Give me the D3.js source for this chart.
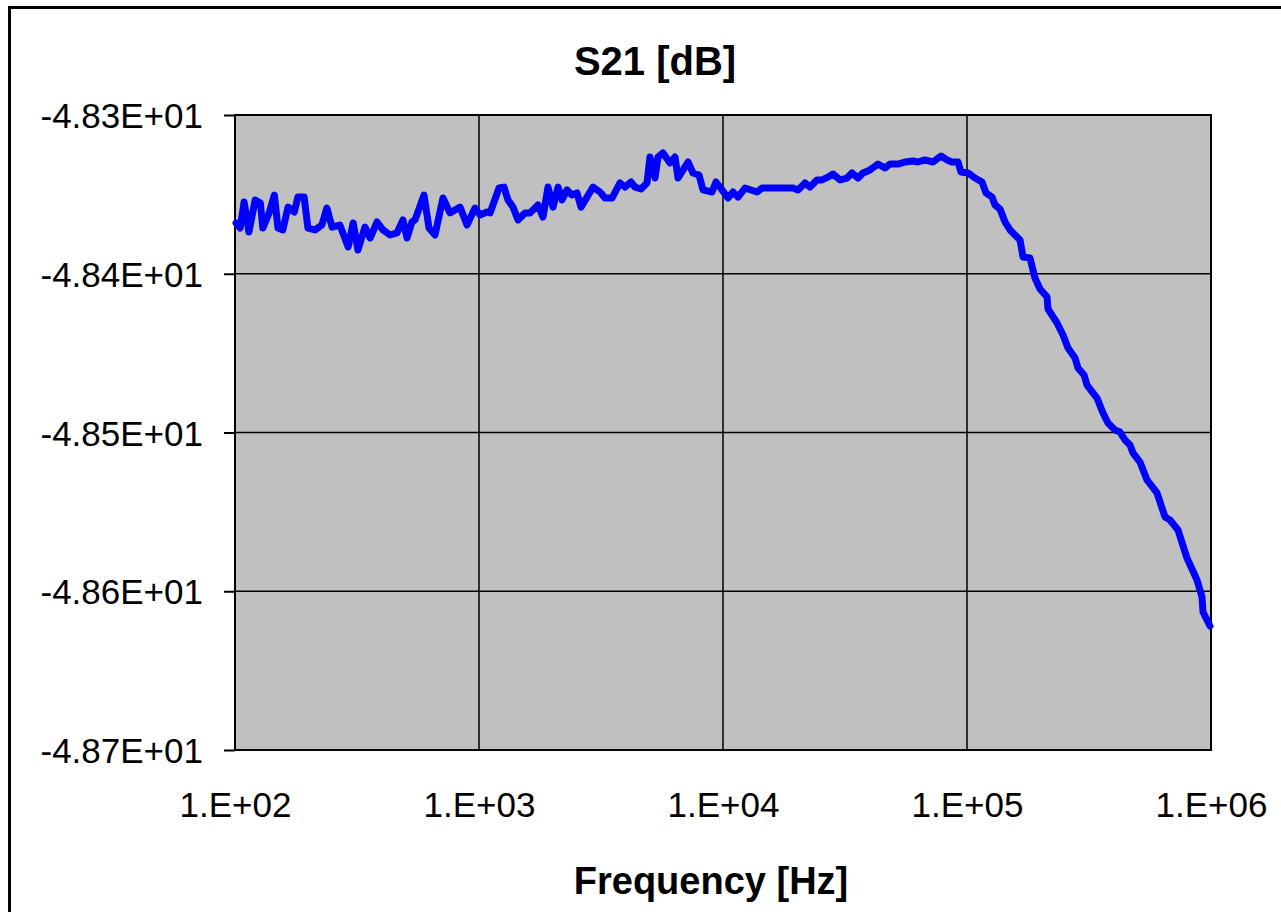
<!DOCTYPE html>
<html>
<head>
<meta charset="utf-8">
<script src="https://cdn.jsdelivr.net/npm/d3@7"></script>
<style>
  body { margin: 0; background: #fff; }
  svg { display: block; }
  text { font-family: Arial, "Liberation Sans", sans-serif; fill: #000; }
</style>
</head>
<body>
<div id="chart"></div>
<script>
// ---- chart data ----
var CHART_TITLE = "S21 [dB]";
var X_TITLE = "Frequency [Hz]";

// frequency [Hz]
var freqHz = [
  101, 105, 109, 114, 121, 127, 130, 138, 145, 150,
  157, 165, 175, 181, 192, 199, 213, 227, 238, 250,
  269, 291, 305, 319, 341, 358, 382, 404, 432, 461,
  488, 507, 531, 547, 595, 624, 660, 712, 761, 836,
  893, 963, 1010, 1078, 1110, 1208, 1266, 1315, 1378, 1445,
  1543, 1618, 1745, 1829, 1918, 2011, 2108, 2189, 2295, 2405,
  2521, 2618, 2771, 2933, 3133, 3284, 3508, 3784, 3966, 4198,
  4358, 4612, 4881, 5020, 5264, 5415, 5676, 6064, 6358, 6540,
  7188, 7534, 7974, 8279, 9014, 9362, 9906, 10484, 10990, 11522,
  12309, 13785, 14450, 19362, 20296, 21683, 22726, 24279, 25449, 26935,
  28234, 30164, 32226, 33780, 35748, 37472, 40035, 43173, 46115, 48349,
  52139, 55698, 60064, 62970, 67270, 72550, 78240, 82790, 86800, 91860,
  94500, 100950, 107840, 115220, 119650, 126630, 130270, 136550, 143150, 150070,
  164910, 169640, 181200, 189960, 199150, 212750, 214780, 233840, 247470, 259410,
  277140, 285110, 301720, 310380, 341050, 360910, 378340, 404190, 423680, 444160,
  465590, 478980, 511690, 546670, 600640, 647860, 679210, 732570, 797270, 876310,
  918680, 927360, 990600
];

// S21 [dB]
var s21dB = [
  -48.3680, -48.3712, -48.3548, -48.3737, -48.3535, -48.3554, -48.3712, -48.3617, -48.3504, -48.3712,
  -48.3724, -48.3580, -48.3611, -48.3517, -48.3517, -48.3712, -48.3724, -48.3693, -48.3586, -48.3706,
  -48.3693, -48.3831, -48.3680, -48.3850, -48.3706, -48.3775, -48.3674, -48.3724, -48.3756, -48.3743,
  -48.3661, -48.3775, -48.3674, -48.3661, -48.3504, -48.3712, -48.3756, -48.3523, -48.3617, -48.3580,
  -48.3693, -48.3586, -48.3630, -48.3611, -48.3617, -48.3460, -48.3454, -48.3535, -48.3580, -48.3661,
  -48.3617, -48.3617, -48.3567, -48.3643, -48.3454, -48.3580, -48.3454, -48.3535, -48.3472, -48.3504,
  -48.3491, -48.3580, -48.3517, -48.3454, -48.3485, -48.3523, -48.3523, -48.3428, -48.3454, -48.3422,
  -48.3454, -48.3466, -48.3428, -48.3265, -48.3397, -48.3265, -48.3239, -48.3302, -48.3265, -48.3397,
  -48.3296, -48.3365, -48.3378, -48.3472, -48.3485, -48.3422, -48.3472, -48.3523, -48.3485, -48.3517,
  -48.3460, -48.3485, -48.3460, -48.3460, -48.3472, -48.3428, -48.3454, -48.3409, -48.3409, -48.3391,
  -48.3372, -48.3409, -48.3397, -48.3365, -48.3397, -48.3365, -48.3346, -48.3309, -48.3334, -48.3309,
  -48.3309, -48.3296, -48.3290, -48.3296, -48.3283, -48.3296, -48.3258, -48.3283, -48.3296, -48.3296,
  -48.3359, -48.3365, -48.3397, -48.3422, -48.3491, -48.3517, -48.3567, -48.3592, -48.3674, -48.3724,
  -48.3787, -48.3894, -48.3901, -48.4027, -48.4096, -48.4146, -48.4222, -48.4310, -48.4386, -48.4468,
  -48.4531, -48.4594, -48.4638, -48.4701, -48.4783, -48.4877, -48.4940, -48.4984, -48.4997, -48.5047,
  -48.5079, -48.5129, -48.5186, -48.5299, -48.5381, -48.5532, -48.5551, -48.5614, -48.5791, -48.5929,
  -48.6036, -48.6131, -48.6219
];

// axis ticks and their labels
var xTicks = [1e2, 1e3, 1e4, 1e5, 1e6];
var xTickLabels = ["1.E+02", "1.E+03", "1.E+04", "1.E+05", "1.E+06"];
var yTicks = [-48.3, -48.4, -48.5, -48.6, -48.7];
var yTickLabels = ["-4.83E+01", "-4.84E+01", "-4.85E+01", "-4.86E+01", "-4.87E+01"];

// ---- layout ----
var WIDTH = 1281, HEIGHT = 912;
var PLOT_LEFT = 235, PLOT_RIGHT = 1211, PLOT_TOP = 115, PLOT_BOTTOM = 750;

var svg = d3.select("#chart").append("svg")
  .attr("width", WIDTH)
  .attr("height", HEIGHT);

// chart area frame (runs off the right / bottom edge in the reference)
svg.append("rect")
  .attr("x", 9.5).attr("y", 7.5)
  .attr("width", WIDTH + 40).attr("height", HEIGHT + 40)
  .style("fill", "#fff")
  .style("stroke", "#000")
  .style("stroke-width", 3);

var x = d3.scaleLog().domain([1e2, 1e6]).range([PLOT_LEFT, PLOT_RIGHT]);
var y = d3.scaleLinear().domain([-48.7, -48.3]).range([PLOT_BOTTOM, PLOT_TOP]);

// plot background
svg.append("rect")
  .attr("x", PLOT_LEFT).attr("y", PLOT_TOP)
  .attr("width", PLOT_RIGHT - PLOT_LEFT).attr("height", PLOT_BOTTOM - PLOT_TOP)
  .style("fill", "#c0c0c0");

// gridlines
var gGrid = svg.append("g").attr("id", "grid");
gGrid.selectAll("line.hgrid")
  .data(yTicks)
  .enter().append("line")
  .attr("class", "hgrid")
  .attr("x1", PLOT_LEFT).attr("x2", PLOT_RIGHT)
  .attr("y1", function(d){return y(d);}).attr("y2", function(d){return y(d);})
  .style("stroke", "#000").style("stroke-width", 1.5);
gGrid.selectAll("line.vgrid")
  .data(xTicks)
  .enter().append("line")
  .attr("class", "vgrid")
  .attr("x1", function(d){return x(d);}).attr("x2", function(d){return x(d);})
  .attr("y1", PLOT_TOP).attr("y2", PLOT_BOTTOM)
  .style("stroke", "#000").style("stroke-width", 1.5);

// plot border
svg.append("rect")
  .attr("x", PLOT_LEFT).attr("y", PLOT_TOP)
  .attr("width", PLOT_RIGHT - PLOT_LEFT).attr("height", PLOT_BOTTOM - PLOT_TOP)
  .style("fill", "none")
  .style("stroke", "#000")
  .style("stroke-width", 2);

// y axis: outside ticks + labels
var yAxis = d3.axisLeft(y)
  .tickValues(yTicks)
  .tickSize(11)
  .tickPadding(21)
  .tickFormat(function(d, i){return yTickLabels[i];});
var gY = svg.append("g")
  .attr("transform", "translate(" + PLOT_LEFT + ",0)")
  .call(yAxis);
gY.select(".domain").remove();
gY.selectAll(".tick line").style("stroke", "#000").style("stroke-width", 2);
gY.selectAll(".tick text")
  .attr("dy", "0.36em")
  .style("font-size", "35px")
  .style("font-family", "Arial, 'Liberation Sans', sans-serif");

// x axis: labels only
var xAxis = d3.axisBottom(x)
  .tickValues(xTicks)
  .tickSize(0)
  .tickPadding(0)
  .tickFormat(function(d, i){return xTickLabels[i];});
var gX = svg.append("g")
  .attr("transform", "translate(0," + PLOT_BOTTOM + ")")
  .call(xAxis);
gX.select(".domain").remove();
gX.selectAll(".tick text")
  .attr("y", 67).attr("dy", 0)
  .style("font-size", "35px")
  .style("font-family", "Arial, 'Liberation Sans', sans-serif");

// the S21 trace
var points = freqHz.map(function(f, i){return {f: f, v: s21dB[i]};});
var line = d3.line()
  .x(function(d){return x(d.f);})
  .y(function(d){return y(d.v);});
svg.append("path")
  .datum(points)
  .attr("d", line)
  .style("fill", "none")
  .style("stroke", "#0000ff")
  .style("stroke-width", 7)
  .style("stroke-linejoin", "round")
  .style("stroke-linecap", "round");

// titles
svg.append("text")
  .attr("x", 655).attr("y", 75)
  .attr("text-anchor", "middle")
  .style("font-size", "40px").style("font-weight", "bold")
  .text(CHART_TITLE);

svg.append("text")
  .attr("x", 711).attr("y", 894)
  .attr("text-anchor", "middle")
  .style("font-size", "38px").style("font-weight", "bold")
  .text(X_TITLE);
</script>
</body>
</html>
